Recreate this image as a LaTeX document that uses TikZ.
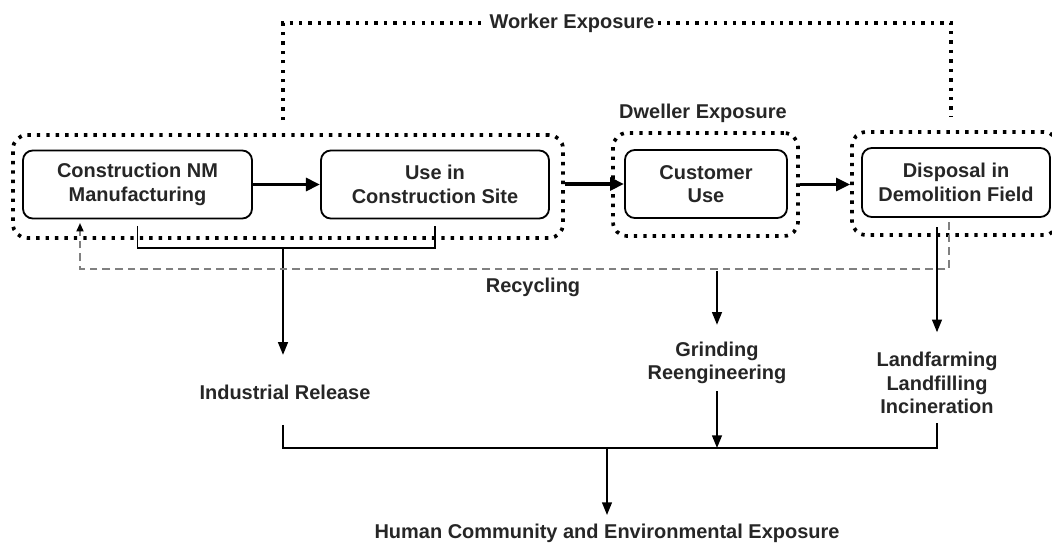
\documentclass[tikz,border=0pt]{standalone}
\usepackage{fontspec}
\setmainfont{Liberation Sans}
\usetikzlibrary{arrows.meta}

\begin{document}
\begin{tikzpicture}[x=0.025cm,y=-0.025cm,
    txt/.style={font=\fontsize{14.2}{16.7}\selectfont\bfseries, text=black!85, align=center, inner sep=2pt},
    stage/.style={txt, draw, line width=1.3pt, rounded corners=7pt, minimum height=1.7cm},
    zone/.style={draw, line width=2.6pt, dash pattern=on 2.4pt off 4.3pt, rounded corners=10pt, minimum height=2.575cm},
    dotline/.style={line width=2.6pt, dash pattern=on 2.4pt off 4.3pt},
    flow/.style={line width=2.8pt, -{Triangle[length=10pt,width=9pt]}},
    link/.style={line width=1.2pt},
    drop/.style={link, -{Triangle[length=9pt,width=7pt]}},
    recyc/.style={line width=1.2pt, black!50, dash pattern=on 5.5pt off 3.5pt, -{Triangle[length=6pt,width=5pt,color=black]}}]
    \useasboundingbox (0,0) rectangle (1052,545);

    % life cycle stages
    \node[stage, minimum width=5.725cm] (manu) at (137.5,184.5) {Construction NM\\Manufacturing};
    \node[stage, minimum width=5.7cm] (site) at (435,184.5) {Use in\\Construction Site};
    \node[stage, minimum width=4.05cm] (cust) at (706,184) {Customer\\Use};
    \node[stage, minimum width=4.7cm, minimum height=1.725cm] (disp) at (956,182.5) {Disposal in\\Demolition Field};

    % exposure zones
    \node[zone, minimum width=13.75cm] (grp1) at (288,186.5) {};
    \node[zone, minimum width=4.625cm] (dwell) at (705.5,184.5) {};
    \node[zone, minimum width=5.15cm] (dispgrp) at (955,183.5) {};

    % labels
    \node[txt] (worker) at (572,23) {Worker Exposure};
    \node[txt] (dwlab) at (703,113) {Dweller Exposure};
    \node[txt] (recl) at (533,287) {Recycling};
    \node[txt] (indrel) at (285,392) {Industrial Release};
    \node[txt] (grind) at (717,363) {Grinding\\Reengineering};
    \node[txt] (landf) at (937,383) {Landfarming\\Landfilling\\Incineration};
    \node[txt] (human) at (607,533) {Human Community and Environmental Exposure};

    \draw[flow] (manu) -- (site);
    \draw[flow] (grp1.east |- cust) -- (cust.west);
    \draw[flow] (dwell.east) -- (dwell.east -| dispgrp.west);

    % worker exposure
    \coordinate (wkL) at (283,120);
    \coordinate (wkR) at (951,117);
    \draw[dotline] (wkL) |- (worker.west);
    \draw[dotline] (worker.east) -| (wkR);

    % releases
    \coordinate (brk) at (283,248);
    \draw[link] ([yshift=-4.6pt]manu.south) |- (brk) -| ([yshift=-4.6pt]site.south);
    \draw[drop, shorten >=19pt] (brk) -- (brk |- indrel.north);

    \coordinate (recR) at (949,222);
    \coordinate (recB) at (949,269);
    \coordinate (recL) at (80,223);
    \draw[recyc] (recR) -- (recB) -| (recL);

    \coordinate (gr0) at (717,271);
    \draw[drop, shorten >=10pt] (gr0) -- (grind.north);
    \coordinate (lf0) at (937,227);
    \draw[drop, shorten >=12pt] (lf0) -- (landf.north);

    \coordinate (hub) at (607,448);
    \draw[link] ([yshift=-16pt]indrel.south -| brk) |- (hub) -| ([yshift=-4pt]landf.south);
    \draw[drop, shorten <=3pt] (grind.south) -- (grind.south |- hub);
    \draw[drop, shorten >=4pt] (hub) -- (human.north);
\end{tikzpicture}
\end{document}
